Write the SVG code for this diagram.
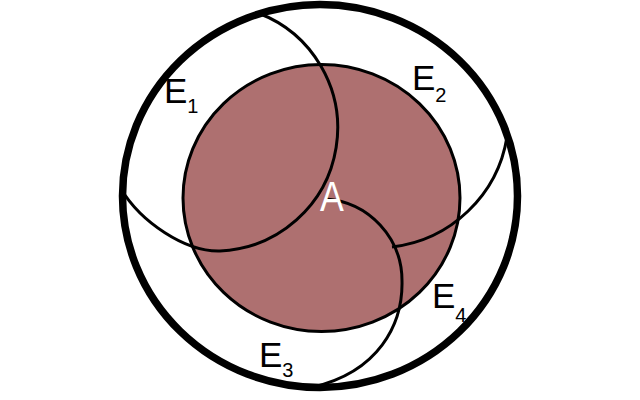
<svg xmlns="http://www.w3.org/2000/svg" width="640" height="400" viewBox="0 0 640 400">
<style>
.arc{fill:none;stroke:#000;stroke-width:3}
.lbl{font-family:"Liberation Sans",Arial,sans-serif;font-size:35px;fill:#000}
.sub{font-size:20px}
</style>
<rect width="640" height="400" fill="#fff"/>
<g id="A">
<ellipse cx="321.5" cy="198" rx="138.5" ry="133.5" fill="#ae7070" stroke="#000" stroke-width="3"/>
</g>
<g id="connectors">
<path id="E1-arc" class="arc" d="M 258 13 A 123 123 0 0 1 220 251 C 185 252 141 222 121 189"/>
<path id="E2-arc" class="arc" d="M 392 247 A 132 132 0 0 0 507 137"/>
<path id="E3-arc" class="arc" d="M 326 199 A 82 82 0 0 1 402 281 C 403 325 378 372 313 387"/>
</g>
<g id="outer">
<ellipse cx="320" cy="196" rx="197.5" ry="191.5" fill="none" stroke="#000" stroke-width="7.5"/>
</g>
<g id="label-A">
<text class="lbl" transform="translate(332,211) scale(0.85,1)" text-anchor="middle" style="font-size:42px;fill:#fff">A</text>
</g>
<g id="E1"><text class="lbl" x="164" y="103">E<tspan class="sub" dy="10">1</tspan></text></g>
<g id="E2"><text class="lbl" x="412" y="90">E<tspan class="sub" dy="11.5">2</tspan></text></g>
<g id="E3"><text class="lbl" x="259" y="367">E<tspan class="sub" dy="10">3</tspan></text></g>
<g id="E4"><text class="lbl" x="432" y="308">E<tspan class="sub" dy="13.5">4</tspan></text></g>
</svg>
